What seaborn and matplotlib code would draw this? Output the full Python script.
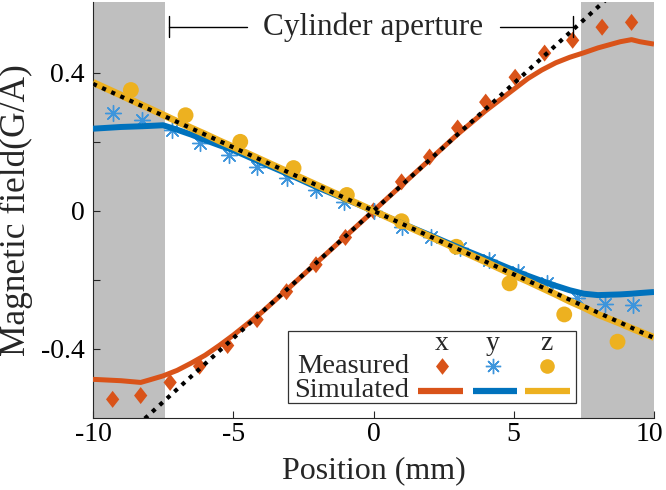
import numpy as np
import pandas as pd
import matplotlib
matplotlib.use("Agg")
import matplotlib.pyplot as plt
import matplotlib.transforms as mtransforms
from matplotlib.patches import Rectangle
from matplotlib.lines import Line2D
import seaborn as sns

# ---------------- data ----------------
sim_pos = [-10, -9, -8.3, -8, -7.5, -7, -6.5, -6, -5.5, -5, -4, -3, -2, -1, 0,
           1, 2, 3, 4, 5, 5.5, 6, 6.5, 7, 7.5, 8, 8.8, 9.2, 9.5, 10]
sim_x = [-0.488, -0.492, -0.497, -0.490, -0.478, -0.462, -0.441, -0.418, -0.390, -0.360, -0.295, -0.222,
         -0.148, -0.074, 0.0,
         0.074, 0.148, 0.222, 0.290, 0.352, 0.383, 0.408, 0.429, 0.445, 0.458, 0.472, 0.490, 0.496, 0.490, 0.483]
sim_y = [0.238, 0.243, 0.245, 0.246, 0.248, 0.235, 0.221, 0.205, 0.190, 0.176, 0.140, 0.105, 0.068, 0.034, 0.0,
         -0.036, -0.070, -0.105, -0.138, -0.172, -0.188, -0.203, -0.217, -0.230, -0.240, -0.244, -0.242,
         -0.240, -0.238, -0.235]
sim_z = [0.372, 0.335, 0.308, 0.297, 0.278, 0.259, 0.240, 0.222, 0.203, 0.185, 0.148, 0.111, 0.074, 0.037, 0.0,
         -0.037, -0.074, -0.111, -0.148, -0.186, -0.204, -0.223, -0.242, -0.262, -0.280, -0.300, -0.326,
         -0.340, -0.350, -0.367]

meas_x_pos = [-9.3, -8.3, -7.25, -6.2, -5.2, -4.15, -3.1, -2.05, -1.0, 0.0,
              1.0, 2.0, 3.0, 4.0, 5.05, 6.1, 7.1, 8.15, 9.2]
meas_x = [-0.546, -0.535, -0.497, -0.450, -0.390, -0.315, -0.234, -0.156, -0.077, 0.0,
          0.084, 0.156, 0.240, 0.315, 0.387, 0.457, 0.494, 0.532, 0.546]

meas_y_pos = [-9.3, -8.25, -7.2, -6.2, -5.15, -4.15, -3.1, -2.05, -1.05, 0.0,
              1.0, 2.05, 3.1, 4.1, 5.15, 6.2, 7.25, 8.25, 9.25]
meas_y = [0.283, 0.263, 0.234, 0.196, 0.162, 0.127, 0.095, 0.060, 0.026, 0.0,
          -0.046, -0.075, -0.108, -0.142, -0.176, -0.210, -0.252, -0.270, -0.272]

meas_z_pos = [-8.65, -6.7, -4.75, -2.85, -0.95, 1.0, 2.95, 4.85, 6.8, 8.7]
meas_z = [0.350, 0.277, 0.200, 0.124, 0.046, -0.030, -0.104, -0.210, -0.300, -0.379]

fit_pos = [-10, 10]
fit_x = [-0.738, 0.738]
fit_yz = [0.368, -0.368]

aperture = [-7.45, 7.4]
bracket = [-7.3, 7.1]
bracket_level = 0.533

xticks = [-10, -5, 0, 5, 10]
xticklabels = ["-10", "-5", "0", "5", "10"]
yticks = [-0.4, -0.2, 0.0, 0.2, 0.4]
yticklabels = ["-0.4", "", "0", "", "0.4"]

C_X = "#D95319"
C_Y = "#0072BD"
C_Z = "#EDB120"
C_STAR = "#3d95dc"

# ---------------- style ----------------
sns.set_style("ticks")
plt.rcParams["font.family"] = ["Liberation Serif", "DejaVu Serif"]
plt.rcParams["axes.unicode_minus"] = False
FS = 20

fig = plt.figure(figsize=(6.66, 4.9), dpi=100)
ax = fig.add_axes([93 / 666, 1 - 418 / 490, 561 / 666, 416 / 490])

# shaded regions outside the aperture
ax.axvspan(-10, aperture[0], color="#bfbfbf", lw=0, zorder=0)
ax.axvspan(aperture[1], 10, color="#bfbfbf", lw=0, zorder=0)

diamond = [(0, 1), (0.78, 0), (0, -1), (-0.78, 0), (0, 1)]

# measured
sns.scatterplot(x=meas_x_pos, y=meas_x, ax=ax, marker=diamond, s=150,
                color=C_X, edgecolor="none", zorder=2)
sns.scatterplot(x=meas_y_pos, y=meas_y, ax=ax, marker=(8, 2, 0), s=130,
                color=C_STAR, linewidth=1.0, zorder=2)
sns.scatterplot(x=meas_z_pos, y=meas_z, ax=ax, marker="o", s=130,
                color=C_Z, edgecolor="none", zorder=2)

# simulated
sim = pd.DataFrame({"pos": sim_pos, "x": sim_x, "y": sim_y, "z": sim_z})
sns.lineplot(data=sim, x="pos", y="x", ax=ax, color=C_X, lw=3.6, sort=False,
             estimator=None, zorder=3, solid_capstyle="butt")
sns.lineplot(data=sim, x="pos", y="y", ax=ax, color=C_Y, lw=4.3, sort=False,
             estimator=None, zorder=3, solid_capstyle="butt")
sns.lineplot(data=sim, x="pos", y="z", ax=ax, color=C_Z, lw=5.0, sort=False,
             estimator=None, zorder=3, solid_capstyle="butt")

# linear fits (dotted)
sns.lineplot(x=fit_pos, y=fit_x, ax=ax, color="black", lw=3.0,
             linestyle=(0, (1, 1.4)), zorder=4, dash_capstyle="butt")
sns.lineplot(x=fit_pos, y=fit_yz, ax=ax, color="black", lw=3.0,
             linestyle=(0, (1, 1.4)), zorder=4, dash_capstyle="butt")

ax.set_xlim(-10, 10)
ax.set_ylim(-0.6, 0.605)
ax.set_xticks(xticks)
ax.set_xticklabels(xticklabels)
ax.set_yticks(yticks)
ax.set_yticklabels(yticklabels)
ax.tick_params(direction="in", length=5, width=0.8, labelsize=FS, colors="#262626",
               labelcolor="black")
ax.tick_params(axis="x", pad=3)
ax.tick_params(axis="y", pad=6)
# keep the last x tick label inside the figure
last = ax.get_xticklabels()[-1]
last.set_transform(last.get_transform() +
                   mtransforms.ScaledTranslation(-3 / 72, 0, fig.dpi_scale_trans))
for s in ["top", "right"]:
    ax.spines[s].set_visible(False)
for s in ["left", "bottom"]:
    ax.spines[s].set_linewidth(0.8)
    ax.spines[s].set_color("#262626")
ax.set_xlabel("Position (mm)", fontsize=23)
ax.set_ylabel("Magnetic field(G/A)", fontsize=25.5)
ax.xaxis.set_label_coords(0.5, -0.093)
ax.yaxis.set_label_coords(-0.107, 0.5)

# "Cylinder aperture" annotation
ax.text(0, bracket_level, "Cylinder aperture", ha="center", va="center",
        fontsize=22.5, zorder=6)
ax.plot([bracket[0], -4.5], [bracket_level, bracket_level], color="black", lw=1, zorder=6)
ax.plot([4.5, bracket[1]], [bracket_level, bracket_level], color="black", lw=1, zorder=6)
for b in bracket:
    ax.plot([b, b], [bracket_level - 0.03, bracket_level + 0.03], color="black", lw=1, zorder=6)

# custom table legend
T = ax.transAxes
ax.add_patch(Rectangle((0.3476, 0.036), 0.861 - 0.3476, 0.209 - 0.036, transform=T,
                       facecolor="white", edgecolor="#333333", lw=0.9, zorder=10))
cols = [0.622, 0.713, 0.809]
for cx, lab in zip(cols, ["x", "y", "z"]):
    ax.text(cx, 0.178, lab, transform=T, ha="center", va="center", fontsize=FS, zorder=11)
ax.text(0.563, 0.125, "Measured", transform=T, ha="right", va="center", fontsize=20.5, zorder=11)
ax.text(0.563, 0.066, "Simulated", transform=T, ha="right", va="center", fontsize=20.5, zorder=11)
ax.add_line(Line2D([cols[0]], [0.125], transform=T, marker=diamond, ms=12, color=C_X,
                   mec="none", ls="none", zorder=11))
ax.add_line(Line2D([cols[1]], [0.125], transform=T, marker=(8, 2, 0), ms=11, color=C_STAR,
                   mew=1.0, ls="none", zorder=11))
ax.add_line(Line2D([cols[2]], [0.125], transform=T, marker="o", ms=10.5, color=C_Z,
                   mec="none", ls="none", zorder=11))
for (x0, x1), c in zip([(0.579, 0.660), (0.677, 0.756), (0.770, 0.850)], [C_X, C_Y, C_Z]):
    ax.add_line(Line2D([x0, x1], [0.064, 0.064], transform=T, color=c, lw=4.5,
                       solid_capstyle="butt", zorder=11))

fig.savefig("out.png", dpi=100)
